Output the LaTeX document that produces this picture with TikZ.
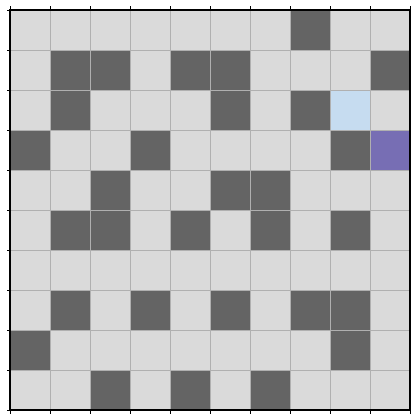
\documentclass[tikz,border=0pt]{standalone}
\definecolor{cellbg}{HTML}{DADADA}
\definecolor{wall}{HTML}{646464}
\definecolor{startc}{HTML}{C6DCF0}
\definecolor{goalc}{HTML}{776EB4}
\definecolor{gridc}{HTML}{B0B0B0}
\begin{document}
\begin{tikzpicture}[x=1pt,y=-1pt]
\useasboundingbox (0,0) rectangle (418,420);
\fill[white] (0,0) rectangle (418,420);
\fill[cellbg] (10,10) rectangle (410,410);
% walls: row/col
\foreach \r/\c in {0/7, 1/1,1/2,1/4,1/5,1/9, 2/1,2/5,2/7, 3/0,3/3,3/8, 4/2,4/5,4/6, 5/1,5/2,5/4,5/6,5/8, 7/1,7/3,7/5,7/7,7/8, 8/0,8/8, 9/2,9/4,9/6}
  \fill[wall] ({10+40*\c},{10+40*\r}) rectangle +(40,40);
\fill[startc] ({10+40*8},{10+40*2}) rectangle +(40,40);
\fill[goalc] ({10+40*9},{10+40*3}) rectangle +(40,40);
\foreach \i in {1,...,9} {
  \draw[gridc,line width=0.8pt] ({10+40*\i},10) -- ({10+40*\i},410);
  \draw[gridc,line width=0.8pt] (10,{10+40*\i}) -- (410,{10+40*\i});
}
\foreach \i in {0,...,10} {
  \draw[black,line width=0.8pt] ({10+40*\i},10) -- ({10+40*\i},6.5);
  \draw[black,line width=0.8pt] ({10+40*\i},410) -- ({10+40*\i},413.5);
  \draw[black,line width=0.8pt] (10,{10+40*\i}) -- (6.5,{10+40*\i});
}
\draw[black,line width=1.2pt] (10,10) rectangle (410,410);
\end{tikzpicture}
\end{document}
